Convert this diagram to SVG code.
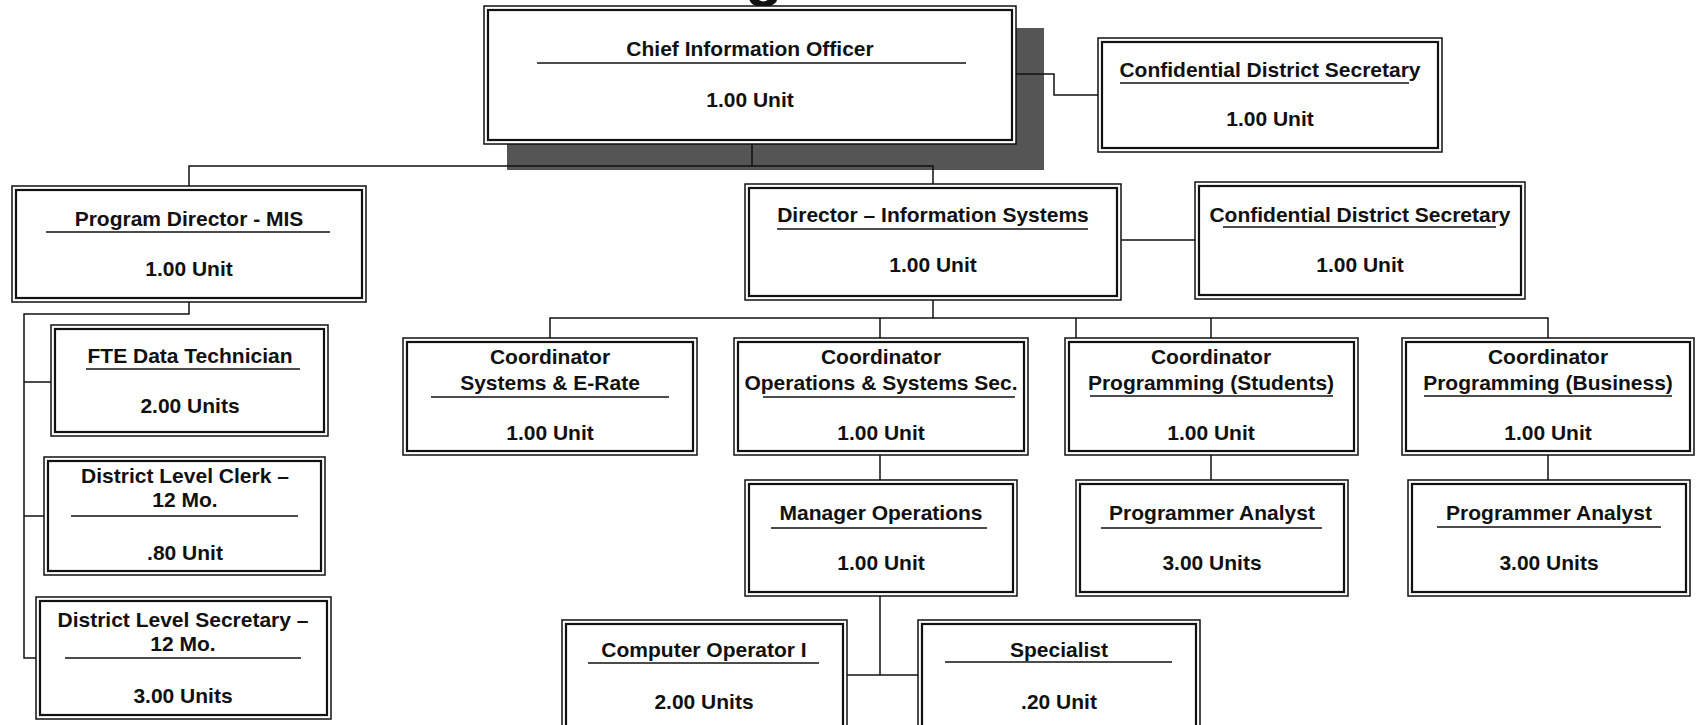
<svg xmlns="http://www.w3.org/2000/svg" width="1697" height="725" viewBox="0 0 1697 725">
<style>
.o{fill:#fff;stroke:#111;stroke-width:1.5}
.i{fill:none;stroke:#111;stroke-width:2.2}
.t{font-family:"Liberation Sans",Arial,sans-serif;font-weight:bold;font-size:21px;text-anchor:middle;fill:#111}
.u{stroke:#111;stroke-width:1.6}
.c{stroke:#111;stroke-width:1.5;fill:none}
.sh{fill:#555}
</style>
<rect width="1697" height="725" fill="#fff"/>
<text x="764" y="-6" style="font-family:'Liberation Sans',Arial,sans-serif;font-weight:bold;font-size:62px;text-anchor:middle;fill:#111">g</text>

<g id="cio">
<rect class="sh" x="507" y="28" width="537" height="142"/>
<rect class="o" x="484" y="6" width="532" height="138"/>
<rect class="i" x="488" y="10" width="524" height="130"/>
<text class="t" x="750" y="56">Chief Information Officer</text>
<line class="u" x1="537" y1="63" x2="966" y2="63"/>
<text class="t" x="750" y="107">1.00 Unit</text>
</g>

<g id="connectors">
<polyline class="c" points="1016,74 1054,74 1054,95 1098,95"/>
<line class="c" x1="752" y1="144" x2="752" y2="166"/>
<polyline class="c" points="189,186 189,166 933,166 933,184"/>
<polyline class="c" points="189,302 189,314 24,314 24,658 36,658"/>
<line class="c" x1="24" y1="382" x2="51" y2="382"/>
<line class="c" x1="24" y1="516" x2="44" y2="516"/>
<line class="c" x1="1121" y1="240" x2="1195" y2="240"/>
<polyline class="c" points="933,300 933,318"/>
<polyline class="c" points="550,338 550,318 1548,318 1548,338"/>
<line class="c" x1="880" y1="318" x2="880" y2="338"/>
<line class="c" x1="1076" y1="318" x2="1076" y2="338"/>
<line class="c" x1="1211" y1="318" x2="1211" y2="338"/>
<line class="c" x1="880" y1="455" x2="880" y2="480"/>
<line class="c" x1="1211" y1="455" x2="1211" y2="480"/>
<line class="c" x1="1548" y1="455" x2="1548" y2="480"/>
<line class="c" x1="880" y1="596" x2="880" y2="675"/>
<line class="c" x1="847" y1="675" x2="918" y2="675"/>
</g>

<g id="cds1">
<rect class="o" x="1098" y="38" width="344" height="114"/>
<rect class="i" x="1102" y="42" width="336" height="106"/>
<text class="t" x="1270" y="77">Confidential District Secretary</text>
<line class="u" x1="1120" y1="83" x2="1409" y2="83"/>
<text class="t" x="1270" y="126">1.00 Unit</text>
</g>

<g id="pdmis">
<rect class="o" x="12" y="186" width="354" height="116"/>
<rect class="i" x="16" y="190" width="346" height="108"/>
<text class="t" x="189" y="226">Program Director - MIS</text>
<line class="u" x1="46" y1="232" x2="330" y2="232"/>
<text class="t" x="189" y="276">1.00 Unit</text>
</g>

<g id="fte">
<rect class="o" x="51" y="325" width="277" height="111"/>
<rect class="i" x="55" y="329" width="269" height="103"/>
<text class="t" x="190" y="363">FTE Data Technician</text>
<line class="u" x1="86" y1="369" x2="300" y2="369"/>
<text class="t" x="190" y="413">2.00 Units</text>
</g>

<g id="clerk">
<rect class="o" x="44" y="457" width="281" height="118"/>
<rect class="i" x="48" y="461" width="273" height="110"/>
<text class="t" x="185" y="483">District Level Clerk –</text>
<text class="t" x="185" y="507">12 Mo.</text>
<line class="u" x1="71" y1="516" x2="298" y2="516"/>
<text class="t" x="185" y="560">.80 Unit</text>
</g>

<g id="secretary">
<rect class="o" x="36" y="597" width="295" height="122"/>
<rect class="i" x="40" y="601" width="287" height="114"/>
<text class="t" x="183" y="627">District Level Secretary –</text>
<text class="t" x="183" y="651">12 Mo.</text>
<line class="u" x1="65" y1="658" x2="301" y2="658"/>
<text class="t" x="183" y="703">3.00 Units</text>
</g>

<g id="dis">
<rect class="o" x="745" y="184" width="376" height="116"/>
<rect class="i" x="749" y="188" width="368" height="108"/>
<text class="t" x="933" y="222">Director – Information Systems</text>
<line class="u" x1="777" y1="229" x2="1088" y2="229"/>
<text class="t" x="933" y="272">1.00 Unit</text>
</g>

<g id="cds2">
<rect class="o" x="1195" y="182" width="330" height="117"/>
<rect class="i" x="1199" y="186" width="322" height="109"/>
<text class="t" x="1360" y="222">Confidential District Secretary</text>
<line class="u" x1="1223" y1="227" x2="1496" y2="227"/>
<text class="t" x="1360" y="272">1.00 Unit</text>
</g>

<g id="coord1">
<rect class="o" x="403" y="338" width="294" height="117"/>
<rect class="i" x="407" y="342" width="286" height="109"/>
<text class="t" x="550" y="364">Coordinator</text>
<text class="t" x="550" y="390">Systems &amp; E-Rate</text>
<line class="u" x1="431" y1="397" x2="669" y2="397"/>
<text class="t" x="550" y="440">1.00 Unit</text>
</g>

<g id="coord2">
<rect class="o" x="734" y="338" width="294" height="117"/>
<rect class="i" x="738" y="342" width="286" height="109"/>
<text class="t" x="881" y="364">Coordinator</text>
<text class="t" x="881" y="390">Operations &amp; Systems Sec.</text>
<line class="u" x1="763" y1="397" x2="1015" y2="397"/>
<text class="t" x="881" y="440">1.00 Unit</text>
</g>

<g id="coord3">
<rect class="o" x="1065" y="338" width="293" height="117"/>
<rect class="i" x="1069" y="342" width="285" height="109"/>
<text class="t" x="1211" y="364">Coordinator</text>
<text class="t" x="1211" y="390">Programming (Students)</text>
<line class="u" x1="1090" y1="396" x2="1333" y2="396"/>
<text class="t" x="1211" y="440">1.00 Unit</text>
</g>

<g id="coord4">
<rect class="o" x="1402" y="338" width="292" height="117"/>
<rect class="i" x="1406" y="342" width="284" height="109"/>
<text class="t" x="1548" y="364">Coordinator</text>
<text class="t" x="1548" y="390">Programming (Business)</text>
<line class="u" x1="1424" y1="396" x2="1672" y2="396"/>
<text class="t" x="1548" y="440">1.00 Unit</text>
</g>

<g id="mgrops">
<rect class="o" x="745" y="480" width="272" height="116"/>
<rect class="i" x="749" y="484" width="264" height="108"/>
<text class="t" x="881" y="520">Manager Operations</text>
<line class="u" x1="771" y1="528" x2="987" y2="528"/>
<text class="t" x="881" y="570">1.00 Unit</text>
</g>

<g id="pa1">
<rect class="o" x="1076" y="480" width="272" height="116"/>
<rect class="i" x="1080" y="484" width="264" height="108"/>
<text class="t" x="1212" y="520">Programmer Analyst</text>
<line class="u" x1="1101" y1="528" x2="1322" y2="528"/>
<text class="t" x="1212" y="570">3.00 Units</text>
</g>

<g id="pa2">
<rect class="o" x="1408" y="480" width="282" height="116"/>
<rect class="i" x="1412" y="484" width="274" height="108"/>
<text class="t" x="1549" y="520">Programmer Analyst</text>
<line class="u" x1="1437" y1="527" x2="1661" y2="527"/>
<text class="t" x="1549" y="570">3.00 Units</text>
</g>

<g id="compop">
<rect class="o" x="562" y="620" width="285" height="117"/>
<rect class="i" x="566" y="624" width="277" height="109"/>
<text class="t" x="704" y="657">Computer Operator I</text>
<line class="u" x1="588" y1="663" x2="819" y2="663"/>
<text class="t" x="704" y="709">2.00 Units</text>
</g>

<g id="specialist">
<rect class="o" x="918" y="620" width="282" height="117"/>
<rect class="i" x="922" y="624" width="274" height="109"/>
<text class="t" x="1059" y="657">Specialist</text>
<line class="u" x1="945" y1="662" x2="1172" y2="662"/>
<text class="t" x="1059" y="709">.20 Unit</text>
</g>
</svg>
